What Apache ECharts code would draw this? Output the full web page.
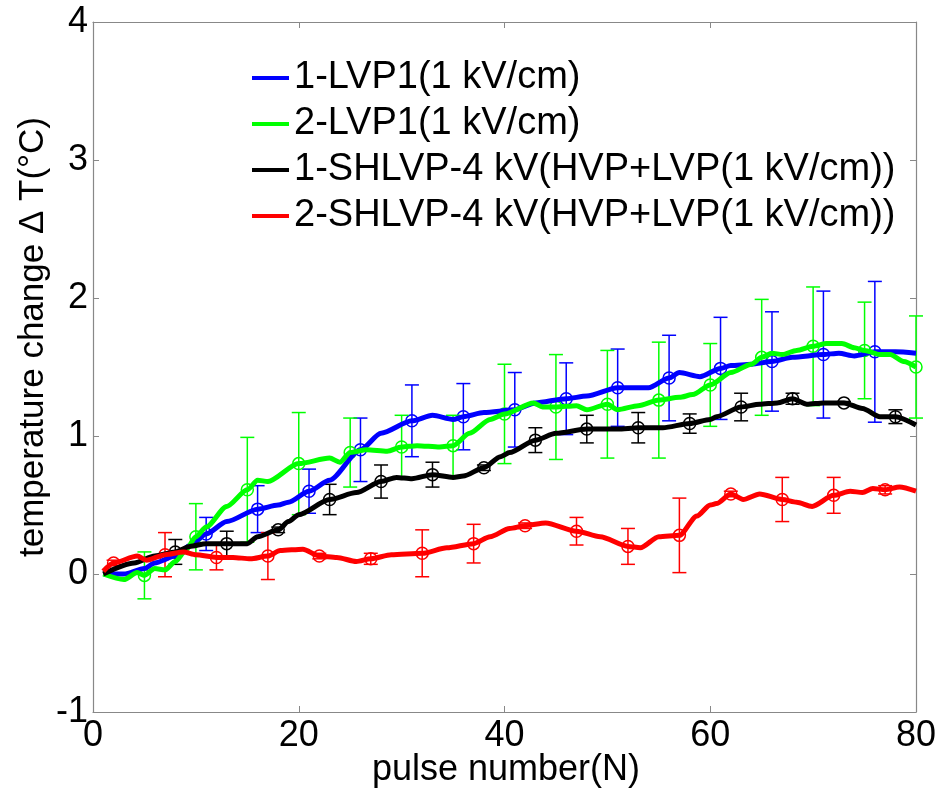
<!DOCTYPE html>
<html>
<head>
<meta charset="utf-8">
<title>temperature change</title>
<script src="https://cdn.jsdelivr.net/npm/echarts@6/dist/echarts.min.js"></script>
<style>
  html, body { margin: 0; padding: 0; background: #fff; }
  #chart { width: 944px; height: 790px; }
</style>
</head>
<body>
<div id="chart"></div>
<script>
// series names (legend)
var names = [
    '1-LVP1(1 kV/cm)',
    '2-LVP1(1 kV/cm)',
    '1-SHLVP-4 kV(HVP+LVP(1 kV/cm))',
    '2-SHLVP-4 kV(HVP+LVP(1 kV/cm))'
];
var colors = ['#0000ff', '#00ff00', '#000000', '#ff0000'];

// curves: [pulse, dT]
var blueLine = [[1,0],[3,0.0],[5,0.04],[6,0.08],[8,0.13],[9.5,0.21],[11,0.29],[13,0.38],[16,0.47],[18,0.50],[19,0.52],[21,0.60],[23,0.68],[26,0.90],[28,1.02],[31,1.11],[33,1.15],[35,1.12],[36,1.14],[38,1.17],[41,1.19],[43,1.24],[46,1.27],[48,1.29],[51,1.35],[54,1.35],[56,1.42],[57,1.46],[59,1.43],[61,1.49],[62,1.51],[64,1.52],[66,1.54],[68,1.57],[71,1.59],[72.5,1.60],[74,1.58],[76,1.61],[78,1.61],[80,1.60]];
var greenLine = [[1,0],[3,-0.04],[4.3,0.01],[5,-0.01],[6,0.04],[7,0.03],[8,0.09],[9,0.17],[10,0.27],[11,0.34],[13,0.49],[15,0.61],[16,0.68],[17,0.67],[20,0.80],[23,0.84],[24,0.81],[25,0.88],[26.6,0.90],[28.6,0.89],[30,0.92],[31.5,0.93],[33.7,0.92],[35,0.93],[36.6,1.02],[38.6,1.12],[40,1.16],[42.8,1.24],[43.7,1.21],[45,1.21],[47,1.22],[48,1.19],[50,1.23],[51,1.19],[53,1.22],[55,1.26],[57,1.28],[58.3,1.30],[60,1.37],[62,1.46],[64,1.52],[65,1.57],[66,1.60],[67,1.59],[68.4,1.62],[70,1.65],[71.3,1.67],[72.8,1.67],[74,1.64],[75,1.62],[76.5,1.59],[77.5,1.59],[78.8,1.54],[80,1.50]];
var blackLine = [[1,0],[4,0.08],[6,0.13],[8,0.16],[9.4,0.20],[11,0.22],[13,0.22],[15,0.22],[16,0.27],[18,0.32],[19,0.38],[20,0.43],[23,0.54],[25.6,0.59],[28,0.67],[29.5,0.70],[31,0.69],[33,0.72],[35,0.70],[36,0.71],[38,0.77],[39.6,0.85],[40.5,0.88],[43,0.97],[45,1.02],[48,1.05],[51,1.05],[53,1.06],[55.4,1.06],[58,1.09],[60,1.12],[60.6,1.14],[63,1.21],[64.8,1.23],[66.5,1.24],[68,1.27],[69.4,1.23],[71,1.24],[73,1.24],[74.8,1.20],[76.5,1.14],[78,1.14],[80,1.08]];
var redLine = [[1,0.02],[2,0.08],[4.3,0.13],[5.2,0.10],[7,0.14],[8.8,0.16],[10,0.14],[12,0.12],[13.6,0.12],[15.3,0.11],[17,0.13],[18.2,0.17],[20.4,0.18],[22,0.13],[23.7,0.12],[25.6,0.09],[27,0.11],[29,0.14],[32,0.15],[34.4,0.19],[37,0.22],[38.6,0.27],[40.5,0.33],[42,0.35],[44,0.37],[47,0.31],[49.3,0.27],[52,0.20],[53.2,0.19],[55,0.27],[57,0.28],[58.7,0.42],[60,0.50],[60.6,0.51],[62,0.58],[63.2,0.54],[64.8,0.58],[67,0.54],[68.4,0.52],[69.9,0.49],[72,0.57],[73.6,0.60],[74.8,0.59],[75.8,0.62],[77,0.61],[78.4,0.63],[80,0.60]];

// markers with error bars: [pulse, mean, err]
var blueErr = [[11,0.29,0.12],[16,0.47,0.17],[21,0.60,0.16],[26,0.90,0.23],[31,1.11,0.26],[36,1.14,0.24],[41,1.19,0.27],[46,1.27,0.26],[51,1.35,0.28],[56,1.42,0.31],[61,1.49,0.37],[66,1.54,0.36],[71,1.59,0.46],[76,1.61,0.51]];
var greenErr = [[5,-0.01,0.17],[10,0.27,0.24],[15,0.61,0.38],[20,0.80,0.37],[25,0.88,0.25],[30,0.92,0.23],[35,0.93,0.22],[40,1.16,0.36],[45,1.21,0.38],[50,1.23,0.39],[55,1.26,0.42],[60,1.37,0.30],[65,1.57,0.42],[70,1.65,0.43],[75,1.62,0.35],[80,1.50,0.37]];
var blackErr = [[8,0.16,0.09],[13,0.22,0.09],[18,0.32,0.02],[23,0.54,0.11],[28,0.67,0.12],[33,0.72,0.09],[38,0.77,0.02],[43,0.97,0.09],[48,1.05,0.10],[53,1.06,0.11],[58,1.09,0.07],[63,1.21,0.10],[68,1.27,0.04],[73,1.24,0.01],[78,1.14,0.05]];
var redErr = [[2,0.08,0.02],[7,0.14,0.16],[12,0.12,0.09],[17,0.13,0.17],[22,0.13,0.02],[27,0.11,0.04],[32,0.15,0.17],[37,0.22,0.14],[42,0.35,0.02],[47,0.31,0.10],[52,0.20,0.13],[57,0.28,0.27],[62,0.58,0.02],[67,0.54,0.16],[72,0.57,0.13],[77,0.61,0.03]];

var lines = [blueLine, greenLine, blackLine, redLine];
var errs = [blueErr, greenErr, blackErr, redErr];

var FONT = 'Liberation Sans, Arial, sans-serif';
var axisGray = '#888888';

function errRender(color) {
    return function (params, api) {
        var n = api.value(0), m = api.value(1), e = api.value(2);
        var c = api.coord([n, m]);
        var top = api.coord([n, m + e]);
        var bot = api.coord([n, m - e]);
        var w = 7;
        var st = { stroke: color, lineWidth: 1.5, fill: null };
        return {
            type: 'group',
            children: [
                { type: 'line', shape: { x1: c[0], y1: top[1], x2: c[0], y2: bot[1] }, style: st },
                { type: 'line', shape: { x1: c[0] - w, y1: top[1], x2: c[0] + w, y2: top[1] }, style: st },
                { type: 'line', shape: { x1: c[0] - w, y1: bot[1], x2: c[0] + w, y2: bot[1] }, style: st },
                { type: 'circle', shape: { cx: c[0], cy: c[1], r: 6 }, style: { stroke: color, lineWidth: 1.5, fill: null } }
            ]
        };
    };
}

var series = [];
for (var i = 0; i < 4; i++) {
    series.push({
        name: names[i],
        type: 'line',
        data: lines[i],
        showSymbol: false,
        smooth: 0.25,
        smoothMonotone: 'x',
        color: colors[i],
        lineStyle: { width: 5, color: colors[i] }
    });
    series.push({
        name: 'err' + i,
        type: 'custom',
        data: errs[i],
        encode: { x: 0, y: 1 },
        renderItem: errRender(colors[i])
    });
}

var myChart = echarts.init(document.getElementById('chart'), null, { renderer: 'canvas' });
var option = {
    animation: false,
    backgroundColor: '#ffffff',
    textStyle: { fontFamily: FONT },
    grid: { left: 93, right: 28, top: 22, bottom: 78, containLabel: false, outerBoundsMode: 'none' },
    legend: {
        data: names,
        orient: 'vertical',
        left: 252,
        top: 59,
        padding: 0,
        itemGap: 8,
        itemWidth: 37,
        itemHeight: 4,
        icon: 'rect',
        textStyle: { fontSize: 38, lineHeight: 36, color: '#000', fontFamily: FONT }
    },
    xAxis: [{
        type: 'value',
        min: 0, max: 80, interval: 20,
        axisLine: { show: true, onZero: false, lineStyle: { color: axisGray, width: 1.2 } },
        axisTick: { show: true, inside: true, length: 6, lineStyle: { color: axisGray } },
        axisLabel: { fontSize: 36, color: '#000', margin: 6, fontFamily: FONT },
        splitLine: { show: false }
    }, {
        type: 'value',
        position: 'top',
        min: 0, max: 80, interval: 20,
        axisLine: { show: true, onZero: false, lineStyle: { color: axisGray, width: 1.2 } },
        axisTick: { show: true, inside: true, length: 6, lineStyle: { color: axisGray } },
        axisLabel: { show: false },
        splitLine: { show: false }
    }],
    yAxis: [{
        type: 'value',
        min: -1, max: 4, interval: 1,
        axisLine: { show: true, onZero: false, lineStyle: { color: axisGray, width: 1.2 } },
        axisTick: { show: true, inside: true, length: 6, lineStyle: { color: axisGray } },
        axisLabel: { fontSize: 36, color: '#000', margin: 5, fontFamily: FONT },
        splitLine: { show: false }
    }, {
        type: 'value',
        position: 'right',
        min: -1, max: 4, interval: 1,
        axisLine: { show: true, onZero: false, lineStyle: { color: axisGray, width: 1.2 } },
        axisTick: { show: true, inside: true, length: 6, lineStyle: { color: axisGray } },
        axisLabel: { show: false },
        splitLine: { show: false }
    }],
    graphic: [{
        type: 'text',
        x: 33,
        y: 337,
        rotation: Math.PI / 2,
        style: {
            text: 'temperature change \u0394 T(\u00b0C)',
            fontSize: 35,
            fontFamily: FONT,
            fill: '#000',
            textAlign: 'center',
            textVerticalAlign: 'middle'
        }
    }, {
        type: 'text',
        x: 506,
        y: 770,
        style: {
            text: 'pulse number(N)',
            fontSize: 36,
            fontFamily: FONT,
            fill: '#000',
            textAlign: 'center',
            textVerticalAlign: 'middle'
        }
    }],
    series: series
};
myChart.setOption(option);
</script>
</body>
</html>
